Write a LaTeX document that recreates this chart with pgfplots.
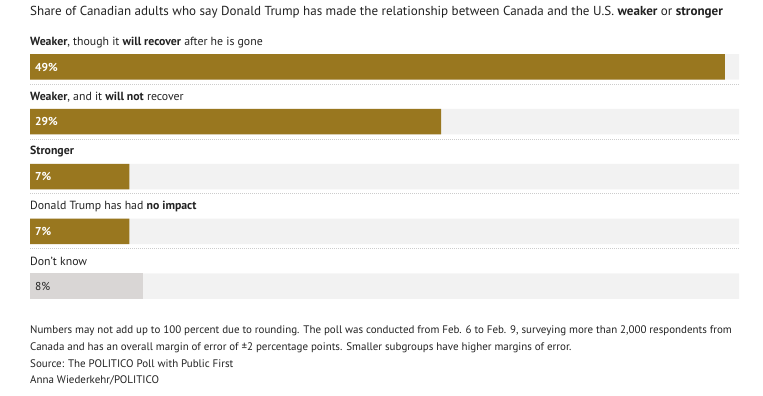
\documentclass[border=0pt]{standalone}
\usepackage{pgfplots}
\pgfplotsset{compat=1.18}
\usepackage{fontspec}
\setmainfont{PT Sans}
\definecolor{gold}{HTML}{99771F}
\definecolor{bggray}{HTML}{F2F2F2}
\definecolor{dkgray}{HTML}{D9D6D5}
\definecolor{sepgray}{HTML}{CCCCCC}
\definecolor{txt}{HTML}{222222}
\begin{document}
\begin{tikzpicture}[x=1bp,y=1bp]
\useasboundingbox (0,0) rectangle (763,395);
\begin{axis}[
  at={(30bp,0bp)}, anchor=south west,
  scale only axis, width=709bp, height=395bp,
  xmin=0, xmax=50,
  ymin=-1.22374, ymax=5.99087,
  y dir=reverse,
  axis lines=none, ticks=none,
  clip=false,
  xbar, bar width=25.5bp, bar shift=0pt,
]
% background bars
\addplot[fill=bggray, draw=none] coordinates {(50,0) (50,1) (50,2) (50,3) (50,4)};
% values
\addplot[fill=gold, draw=none] coordinates {(49,0) (29,1) (7,2) (7,3)};
\addplot[fill=dkgray, draw=none] coordinates {(8,4)};
% value labels
\addplot[draw=none, mark=none, nodes near coords, point meta=explicit symbolic,
  every node near coord/.style={anchor=west, xshift=5bp, inner sep=0pt, text=white, font=\fontsize{11.5}{13}\selectfont\bfseries}]
  coordinates {(0,0) [49\%] (0,1) [29\%] (0,2) [7\%] (0,3) [7\%]};
\addplot[draw=none, mark=none, nodes near coords, point meta=explicit symbolic,
  every node near coord/.style={anchor=west, xshift=5bp, inner sep=0pt, text=txt, font=\fontsize{11.5}{13}\selectfont}]
  coordinates {(0,4) [8\%]};
% separators
\pgfplotsinvokeforeach{0,1,2,3}{
  \draw[sepgray, line width=1bp, dash pattern=on 1bp off 1bp] ([yshift=-17.3bp]axis cs:0,#1) -- ([yshift=-17.3bp]axis cs:50,#1);
}
% category labels
\node[anchor=west, inner sep=0pt, text=txt, font=\fontsize{11.85}{13}\selectfont] at ([yshift=24.5bp]axis cs:0,0) {\textbf{Weaker}, though it \textbf{will recover} after he is gone};
\node[anchor=west, inner sep=0pt, text=txt, font=\fontsize{11.85}{13}\selectfont] at ([yshift=24.5bp]axis cs:0,1) {\textbf{Weaker}, and it \textbf{will not} recover};
\node[anchor=west, inner sep=0pt, text=txt, font=\fontsize{11.85}{13}\selectfont] at ([yshift=24.5bp]axis cs:0,2) {\textbf{Stronger}};
\node[anchor=west, inner sep=0pt, text=txt, font=\fontsize{11.85}{13}\selectfont] at ([yshift=24.5bp]axis cs:0,3) {Donald Trump has had \textbf{no impact}};
\node[anchor=west, inner sep=0pt, text=txt, font=\fontsize{11.85}{13}\selectfont] at ([yshift=24.5bp]axis cs:0,4) {Don't know};
\end{axis}
\begin{scope}[every node/.style={anchor=west, inner sep=0pt, text=txt}]
\node[font=\fontsize{13.1}{15}\selectfont] at (30,383) {Share of Canadian adults who say Donald Trump has made the relationship between Canada and the U.S. \textbf{weaker} or \textbf{stronger}};
\node[font=\fontsize{11}{13}\selectfont] at (30,64.3) {Numbers may not add up to 100 percent due to rounding. The poll was conducted from Feb. 6 to Feb. 9, surveying more than 2,000 respondents from};
\node[font=\fontsize{11}{13}\selectfont] at (30,47.7) {Canada and has an overall margin of error of ±2 percentage points. Smaller subgroups have higher margins of error.};
\node[font=\fontsize{11}{13}\selectfont] at (30,31) {Source: The POLITICO Poll with Public First};
\node[font=\fontsize{11}{13}\selectfont] at (30,14.3) {Anna Wiederkehr/POLITICO};
\end{scope}
\end{tikzpicture}
\end{document}
